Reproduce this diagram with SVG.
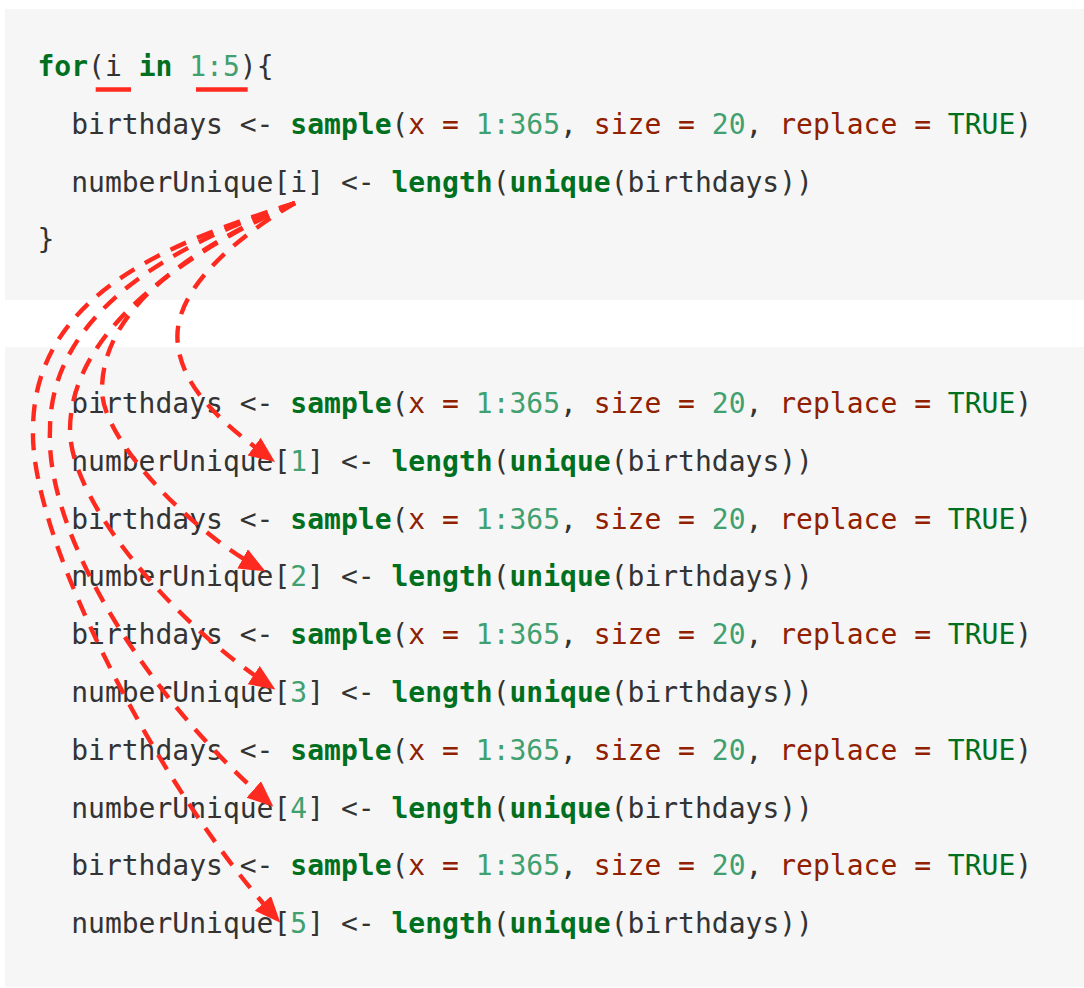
<svg xmlns="http://www.w3.org/2000/svg" width="1084" height="988" viewBox="0 0 1084 988">
<style>
.code{font-family:"DejaVu Sans Mono","Liberation Mono",monospace;font-size:28px;fill:#333333;white-space:pre}
.kw{fill:#007020;font-weight:bold}
.bi{fill:#007020}
.num{fill:#40a070}
.arg{fill:#902000}
.bg{fill:#f6f6f6}
.arrow{fill:none;stroke:#ff2a1f;stroke-width:4.4;stroke-dasharray:17 12}
.ul{stroke:#ff2a1f;stroke-width:4.5}
</style>
<defs>
<marker id="head" markerUnits="userSpaceOnUse" markerWidth="30" markerHeight="26" refX="18" refY="11" orient="auto" viewBox="0 0 30 26">
<path d="M0,0 L26,11 L0,22 Z" fill="#ff2a1f"/>
</marker>
</defs>
<rect width="1084" height="988" fill="#ffffff"/>
<g id="block-loop">
<rect class="bg" x="5" y="9" width="1079" height="291"/>
<g id="loop-line1"><text class="code" x="37.5" y="76" xml:space="preserve"><tspan class="kw">for</tspan>(i <tspan class="kw">in</tspan> <tspan class="num">1:5</tspan>){</text></g>
<g id="loop-line2"><text class="code" x="71.2" y="133.8" xml:space="preserve">birthdays &lt;- <tspan class="kw">sample</tspan>(<tspan class="arg">x =</tspan> <tspan class="num">1:365</tspan>, <tspan class="arg">size =</tspan> <tspan class="num">20</tspan>, <tspan class="arg">replace =</tspan> <tspan class="bi">TRUE</tspan>)</text></g>
<g id="loop-line3"><text class="code" x="71.2" y="191.6" xml:space="preserve">numberUnique[i] &lt;- <tspan class="kw">length</tspan>(<tspan class="kw">unique</tspan>(birthdays))</text></g>
<g id="loop-line4"><text class="code" x="37.5" y="249.4" xml:space="preserve">}</text></g>
</g>
<g id="block-unrolled">
<rect class="bg" x="5" y="347" width="1079" height="640"/>
<g id="iter1">
<text class="code" x="71.2" y="413" xml:space="preserve">birthdays &lt;- <tspan class="kw">sample</tspan>(<tspan class="arg">x =</tspan> <tspan class="num">1:365</tspan>, <tspan class="arg">size =</tspan> <tspan class="num">20</tspan>, <tspan class="arg">replace =</tspan> <tspan class="bi">TRUE</tspan>)</text>
<text class="code" x="71.2" y="470.8" xml:space="preserve">numberUnique[<tspan class="num">1</tspan>] &lt;- <tspan class="kw">length</tspan>(<tspan class="kw">unique</tspan>(birthdays))</text>
</g>
<g id="iter2">
<text class="code" x="71.2" y="528.6" xml:space="preserve">birthdays &lt;- <tspan class="kw">sample</tspan>(<tspan class="arg">x =</tspan> <tspan class="num">1:365</tspan>, <tspan class="arg">size =</tspan> <tspan class="num">20</tspan>, <tspan class="arg">replace =</tspan> <tspan class="bi">TRUE</tspan>)</text>
<text class="code" x="71.2" y="586.4" xml:space="preserve">numberUnique[<tspan class="num">2</tspan>] &lt;- <tspan class="kw">length</tspan>(<tspan class="kw">unique</tspan>(birthdays))</text>
</g>
<g id="iter3">
<text class="code" x="71.2" y="644.2" xml:space="preserve">birthdays &lt;- <tspan class="kw">sample</tspan>(<tspan class="arg">x =</tspan> <tspan class="num">1:365</tspan>, <tspan class="arg">size =</tspan> <tspan class="num">20</tspan>, <tspan class="arg">replace =</tspan> <tspan class="bi">TRUE</tspan>)</text>
<text class="code" x="71.2" y="702" xml:space="preserve">numberUnique[<tspan class="num">3</tspan>] &lt;- <tspan class="kw">length</tspan>(<tspan class="kw">unique</tspan>(birthdays))</text>
</g>
<g id="iter4">
<text class="code" x="71.2" y="759.8" xml:space="preserve">birthdays &lt;- <tspan class="kw">sample</tspan>(<tspan class="arg">x =</tspan> <tspan class="num">1:365</tspan>, <tspan class="arg">size =</tspan> <tspan class="num">20</tspan>, <tspan class="arg">replace =</tspan> <tspan class="bi">TRUE</tspan>)</text>
<text class="code" x="71.2" y="817.6" xml:space="preserve">numberUnique[<tspan class="num">4</tspan>] &lt;- <tspan class="kw">length</tspan>(<tspan class="kw">unique</tspan>(birthdays))</text>
</g>
<g id="iter5">
<text class="code" x="71.2" y="875.4" xml:space="preserve">birthdays &lt;- <tspan class="kw">sample</tspan>(<tspan class="arg">x =</tspan> <tspan class="num">1:365</tspan>, <tspan class="arg">size =</tspan> <tspan class="num">20</tspan>, <tspan class="arg">replace =</tspan> <tspan class="bi">TRUE</tspan>)</text>
<text class="code" x="71.2" y="933.2" xml:space="preserve">numberUnique[<tspan class="num">5</tspan>] &lt;- <tspan class="kw">length</tspan>(<tspan class="kw">unique</tspan>(birthdays))</text>
</g>
</g>
<g id="highlights">
<line class="ul" x1="95.7" y1="89.5" x2="131" y2="89.5"/>
<line class="ul" x1="196" y1="89.5" x2="247.7" y2="89.5"/>
</g>
<g id="connectors">
<path class="arrow" marker-end="url(#head)" d="M295,203 C240,235 170,290 178,345 C183,390 225,425 268.6,457.3"/>
<path class="arrow" marker-end="url(#head)" d="M295,203 C210,240 102,300 102,390 C102,440 190,530 258.4,567.5"/>
<path class="arrow" marker-end="url(#head)" d="M295,203 C200,245 70,325 70,430 C70,500 170,620 268.7,685"/>
<path class="arrow" marker-end="url(#head)" d="M295,203 C190,238 50,305 50,430 C45,530 140,690 267.3,801.3"/>
<path class="arrow" marker-end="url(#head)" d="M295,203 C180,240 33,290 33,430 C30,540 160,790 275,916.8"/>
</g>
</svg>
